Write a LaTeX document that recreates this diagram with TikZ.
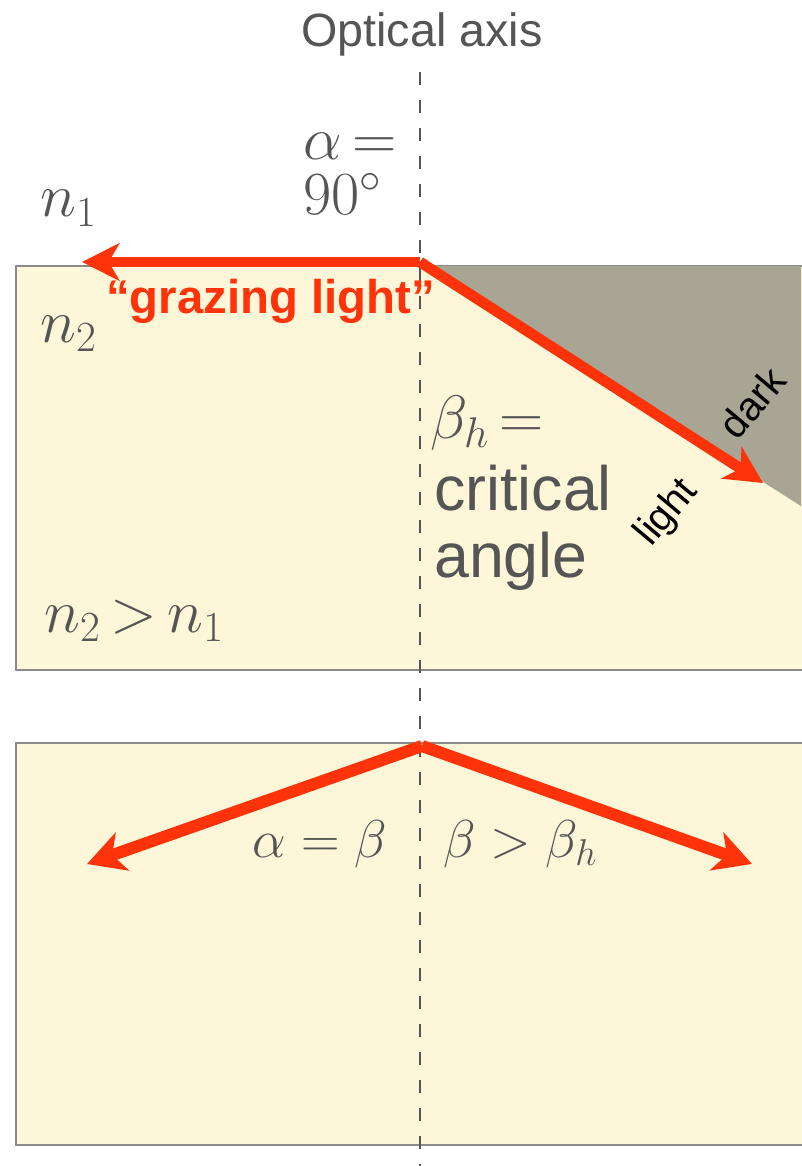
\RequirePackage{fix-cm}
\documentclass[tikz,border=0pt]{standalone}
\usepackage{fontspec}
\setsansfont{Liberation Sans}
\usetikzlibrary{arrows.meta}
\definecolor{txtgray}{HTML}{555555}
\definecolor{raycol}{RGB}{255,51,10}
\definecolor{boxfill}{HTML}{FDF6D8}
\definecolor{boxline}{HTML}{8A8A8A}
\definecolor{darkzone}{HTML}{A8A595}
\tikzset{
  medium/.style={fill=boxfill, draw=boxline, line width=1.2pt},
  axisline/.style={draw=txtgray, line width=1.6pt, dash pattern=on 10pt off 11pt},
  ray/.style={draw=raycol, line width=8pt, -{Stealth[length=28pt,width=28pt,inset=8pt]}},
  raythin/.style={draw=raycol, line width=9pt, -{Stealth[length=28pt,width=30pt,inset=8pt]}},
  mathlbl/.style={text=txtgray, inner sep=0pt, anchor=base west, font=\fontsize{46}{50}\selectfont},
  mathsmall/.style={text=txtgray, inner sep=0pt, anchor=base west, font=\fontsize{40}{44}\selectfont},
  sanslbl/.style={text=txtgray, inner sep=0pt, anchor=base west, font=\sffamily\fontsize{47}{50}\selectfont},
  rotlbl/.style={text=black, inner sep=0pt, font=\sffamily\fontsize{30}{32}\selectfont, rotate=50},
}
\begin{document}
\begin{tikzpicture}[x=0.75pt, y=-0.75pt]
\useasboundingbox (0,0) rectangle (801,1166);
% media
\path[medium] (16,266) rectangle (812,670);
\path[medium] (16,743) rectangle (812,1145);
% dark region
\fill[darkzone] (422,266) -- (801,266) -- (801,506) -- cycle;
% optical axis
\coordinate (axtop) at (420,72);
\coordinate (axbot) at (420,1166);
\draw[axisline] (axtop) -- (axbot);
\node[text=txtgray, inner sep=0pt, anchor=base, font=\sffamily\fontsize{35}{40}\selectfont] (optax) at (422,47) {Optical axis};
% rays
\coordinate (O) at (420,262);
\coordinate (G) at (82,262);
\coordinate (T) at (763,483);
\draw[ray] (O) -- (G);
\draw[ray] (O) -- (T);
\coordinate (O2) at (422,746);
\coordinate (L2) at (87,864);
\coordinate (R2) at (752,864);
\draw[raythin] (O2) -- (L2);
\draw[raythin] (O2) -- (R2);
% labels
\node[text=raycol, inner sep=0pt, anchor=base west, font=\sffamily\bfseries\fontsize{35.5}{40}\selectfont] (graz) at (106,313) {“grazing light”};
\node[mathlbl] (n1) at (40,217) {$n_1$};
\node[mathlbl] (n2) at (40,342) {$n_2$};
\node[mathlbl] (n21) at (44,632) {$n_2\,{>}\,n_1$};
\node[mathlbl] (alpha) at (303,160) {$\alpha\,{=}$};
\node[mathlbl] (ninety) at (303,215) {$90^\circ$};
\node[mathlbl] (betah) at (430,438) {$\beta_h\,{=}$};
\node[sanslbl] (crit) at (434,510) {critical};
\node[sanslbl] (angle) at (434,577) {angle};
\node[rotlbl] (dark) at (752,403) {dark};
\node[rotlbl] (light) at (667,513) {light};
\node[mathsmall, anchor=base east] (ab) at (387,857) {$\alpha = \beta$};
\node[mathsmall] (bb) at (443,857) {$\beta > \beta_h$};
\end{tikzpicture}
\end{document}
